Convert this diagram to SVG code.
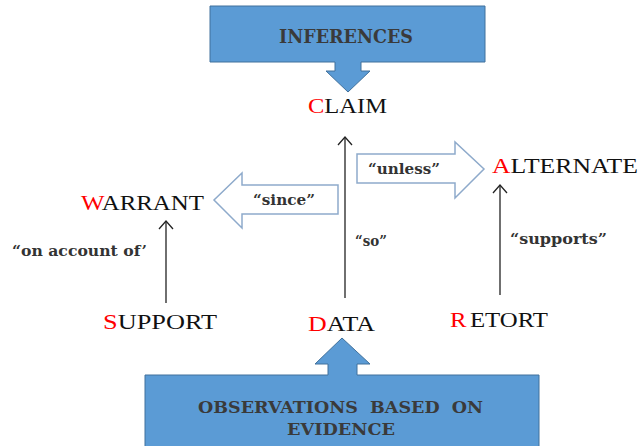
<svg xmlns="http://www.w3.org/2000/svg" width="640" height="446" viewBox="0 0 640 446">
<defs>
<marker id="chev" viewBox="0 0 10 16" refX="9" refY="8" markerWidth="10" markerHeight="16" markerUnits="userSpaceOnUse" orient="auto">
<path d="M1,1 L9,8 L1,15" fill="none" stroke="#222" stroke-width="1.3"/>
</marker>
<style>
.callout{fill:#5b9bd5;stroke:#41719c;stroke-width:1}
.ctext{font-weight:bold;fill:#3a3a3a}
.lbl{font-size:22px;fill:#111}
.red{fill:#ff0000}
.q{font-size:15px;font-weight:bold;fill:#333}
.blk{fill:#fff;stroke:#8eaacb;stroke-width:1.5}
.conn{stroke:#222;stroke-width:1.3;fill:none;marker-end:url(#chev)}
</style>
</defs>

<g id="inferences" font-family="DejaVu Serif, serif">
<path class="callout" d="M210,6 H485 V62 H361 V71 H370 L348,92 L326,71 H335 V62 H210 Z"/>
<text class="ctext" x="279" y="43" font-size="19" textLength="134" lengthAdjust="spacingAndGlyphs">INFERENCES</text>
</g>

<g id="observations" font-family="DejaVu Serif, serif">
<path class="callout" d="M145,375 H328 V364 H315 L342,338 L370,364 H357 V375 H539 V450 H145 Z"/>
<text class="ctext" x="198" y="413" font-size="17" textLength="285" lengthAdjust="spacingAndGlyphs" xml:space="preserve">OBSERVATIONS  BASED  ON</text>
<text class="ctext" x="287" y="435" font-size="17" textLength="108" lengthAdjust="spacingAndGlyphs">EVIDENCE</text>
</g>

<g font-family="Liberation Serif, Times New Roman, serif">
<g id="claim"><text class="lbl" x="308" y="113" textLength="79" lengthAdjust="spacingAndGlyphs"><tspan class="red">C</tspan>LAIM</text></g>
<g id="warrant"><text class="lbl" x="81" y="210" textLength="123" lengthAdjust="spacingAndGlyphs"><tspan class="red">W</tspan>ARRANT</text></g>
<g id="alternate"><text class="lbl" x="492" y="173" textLength="146" lengthAdjust="spacingAndGlyphs"><tspan class="red">A</tspan>LTERNATE</text></g>
<g id="support"><text class="lbl" x="103" y="329" textLength="114" lengthAdjust="spacingAndGlyphs"><tspan class="red">S</tspan>UPPORT</text></g>
<g id="data"><text class="lbl" x="308" y="331" textLength="67" lengthAdjust="spacingAndGlyphs"><tspan class="red">D</tspan>ATA</text></g>
<g id="retort"><text class="lbl" x="450" y="327" textLength="98" lengthAdjust="spacingAndGlyphs"><tspan class="red">R</tspan><tspan dx="3">ETORT</tspan></text></g>
</g>

<g id="since" font-family="DejaVu Serif, serif">
<path class="blk" d="M338,185 H242 V173 L214,200 L242,228 V214 H338 Z"/>
<text class="q" x="253" y="205" textLength="62" lengthAdjust="spacingAndGlyphs">“since”</text>
</g>
<g id="unless" font-family="DejaVu Serif, serif">
<path class="blk" d="M357,154 H455 V142 L484,169 L455,198 V183 H357 Z"/>
<text class="q" x="368" y="174" textLength="72" lengthAdjust="spacingAndGlyphs">“unless”</text>
</g>

<g id="connectors">
<line class="conn" x1="345" y1="298" x2="345" y2="137"/>
<line class="conn" x1="166" y1="303" x2="166" y2="221"/>
<line class="conn" x1="500" y1="295" x2="500" y2="185"/>
</g>

<g id="labels" font-family="DejaVu Serif, serif">
<text class="q" x="355" y="246" textLength="32" lengthAdjust="spacingAndGlyphs">“so”</text>
<text class="q" x="510" y="244" textLength="97" lengthAdjust="spacingAndGlyphs">“supports”</text>
<text class="q" x="12" y="256" textLength="135" lengthAdjust="spacingAndGlyphs">“on account of’</text>
</g>
</svg>
